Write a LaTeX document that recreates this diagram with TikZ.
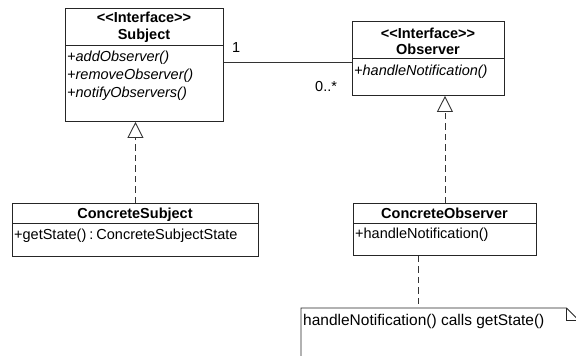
\documentclass[tikz,border=0pt]{standalone}
\usepackage{fontspec}
\setmainfont{Liberation Sans}
\usetikzlibrary{arrows.meta}
\newcommand{\stereo}[1]{{<}{<}#1{>}{>}}
\begin{document}
\begin{tikzpicture}[x=1pt,y=-1pt,
  umlfont/.style={font=\fontsize{14.5}{17}\selectfont},
  classbox/.style={draw=black!85, line width=0.9pt, fill=white, anchor=north west, inner sep=0},
  membertext/.style={umlfont, inner sep=0, anchor=base west},
  classtitle/.style={font=\fontsize{14.5}{17}\selectfont\bfseries, inner sep=0, anchor=base},
  sepline/.style={draw=black!85, line width=0.9pt},
  assoc/.style={draw=black!80, line width=0.9pt},
  depend/.style={draw=black!80, line width=0.9pt, dash pattern=on 6.5pt off 4pt},
  realize/.style={depend, -{Triangle[open, width=16pt, length=16pt]}},
  notebox/.style={draw=black!85, line width=0.9pt}]
\path[use as bounding box, clip] (0,0) rectangle (576,356);

% interface Subject
\node[classbox, minimum width=158, minimum height=113] (subject) at (65,8) {};
\draw[sepline] ([yshift=-37pt]subject.north west) -- ([yshift=-37pt]subject.north east);
\node[classtitle] (subjstereo) at (144,22) {\stereo{Interface}};
\node[classtitle] (subjname) at (144,39.5) {Subject};
\node[membertext] (subjop1) at (67,61) {\itshape +addObserver()};
\node[membertext] (subjop2) at (67,79) {\itshape +removeObserver()};
\node[membertext] (subjop3) at (67,97) {\itshape +notifyObservers()};

% interface Observer
\node[classbox, minimum width=152, minimum height=74] (observer) at (352,21) {};
\draw[sepline] ([yshift=-37pt]observer.north west) -- ([yshift=-37pt]observer.north east);
\node[classtitle] (obsstereo) at (428,38) {\stereo{Interface}};
\node[classtitle] (obsname) at (428,54) {Observer};
\node[membertext] (obsop1) at (354,75) {\itshape +handleNotification()};

% ConcreteSubject
\node[classbox, minimum width=246, minimum height=53] (csubject) at (12,203) {};
\draw[sepline] ([yshift=-20pt]csubject.north west) -- ([yshift=-20pt]csubject.north east);
\node[classtitle] (csubjname) at (135,218) {ConcreteSubject};
\node[membertext] (csubjop1) at (14,239) {+getState()\kern-1pt\ :\kern-1pt\ ConcreteSubjectState};

% ConcreteObserver
\node[classbox, minimum width=183, minimum height=52] (cobserver) at (353,203) {};
\draw[sepline] ([yshift=-20pt]cobserver.north west) -- ([yshift=-20pt]cobserver.north east);
\node[classtitle] (cobsname) at (444.5,218) {ConcreteObserver};
\node[membertext] (cobsop1) at (355,238.5) {+handleNotification()};

% association Subject -- Observer
\coordinate (assocy) at (0,62);
\draw[assoc] (subject.east |- assocy) -- (observer.west |- assocy);
\node[membertext] (multone) at (232,52) {1};
\node[membertext] (multmany) at (315,91) {0..*};

% realizations
\draw[realize] (csubject.north) -- (csubject.north |- subject.south);
\draw[realize] (cobserver.north) -- (cobserver.north |- observer.south);

% note attached to ConcreteObserver
\node[inner sep=0, minimum width=277, minimum height=62, anchor=north west] (note) at (301,308) {};
\draw[notebox] (note.south west) -- (note.north west) -- ([xshift=-12pt]note.north east)
  -- ([yshift=-12pt]note.north east) -- (note.south east);
\draw[notebox] ([xshift=-12pt]note.north east) -- ([xshift=-12pt,yshift=-12pt]note.north east)
  -- ([yshift=-12pt]note.north east);
\node[membertext, font=\fontsize{15.5}{18}\selectfont] (notetext) at (303,325) {handleNotification() calls getState()};
\coordinate (notelink) at (418,0);
\draw[depend] (cobserver.south -| notelink) -- (note.north -| notelink);
\end{tikzpicture}
\end{document}
